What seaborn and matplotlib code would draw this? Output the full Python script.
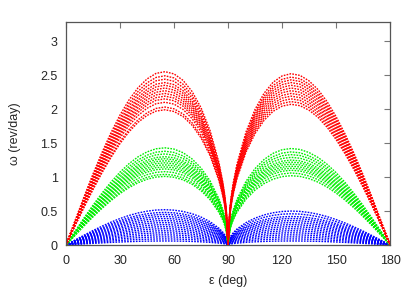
from pathlib import Path
import pandas as pd
import matplotlib
matplotlib.use("Agg")
import matplotlib.pyplot as plt
import seaborn as sns

# ==========================================================
# Data
# ==========================================================

# obliquity samples of one lobe, and the normalised arc shape at them
EPS_LOBE = [0, 5, 10, 15, 20, 25, 30, 35, 40, 45, 50, 55, 60, 65,
            70, 75, 80, 85, 87, 88, 89, 90]
SHAPE = [0.0, 0.14, 0.278, 0.41, 0.534, 0.648, 0.75, 0.837, 0.907, 0.958,
         0.99, 1.0, 0.987, 0.95, 0.886, 0.792, 0.661, 0.474, 0.368, 0.301,
         0.213, 0.0]

# peak heights of each arc (rev/day)
RED_LEFT = [2.55, 2.49, 2.44, 2.39, 2.35, 2.31, 2.27, 2.23, 2.19, 2.15,
            2.10, 2.03, 1.99]
GREEN_LEFT = [1.43, 1.38, 1.34, 1.30, 1.27, 1.24, 1.21, 1.18, 1.15, 1.12,
              1.08, 1.04, 1.01]
BLUE_LEFT = [0.52, 0.48, 0.45, 0.42, 0.39, 0.36, 0.33, 0.30, 0.27, 0.24,
             0.21, 0.18, 0.15, 0.12, 0.09, 0.06]

RED_RIGHT = [2.52, 2.47, 2.43, 2.39, 2.35, 2.31, 2.27, 2.23, 2.19, 2.15,
             2.11, 2.07]
GREEN_RIGHT = [1.42, 1.37, 1.33, 1.29, 1.25, 1.22, 1.19, 1.16, 1.13, 1.10,
               1.06, 1.02]
BLUE_RIGHT = [0.50, 0.46, 0.42, 0.39, 0.36, 0.33, 0.30, 0.27, 0.24, 0.21,
              0.18, 0.15, 0.12, 0.09, 0.06]

X_TICKS = [0, 30, 60, 90, 120, 150, 180]
Y_TICKS = [0, 0.5, 1, 1.5, 2, 2.5, 3]

COLORS = {"red": "#ff0000", "green": "#00ee00", "blue": "#0000ff"}

OUT_PATH = Path("out.png")

# ==========================================================
# Build long table
# ==========================================================

def build_frame():

    rows = []
    sets = [
        ("blue", BLUE_LEFT, False), ("blue", BLUE_RIGHT, True),
        ("green", GREEN_LEFT, False), ("green", GREEN_RIGHT, True),
        ("red", RED_LEFT, False), ("red", RED_RIGHT, True),
    ]

    curve = 0
    for color, peaks, mirrored in sets:
        for peak in peaks:
            for eps, s in zip(EPS_LOBE, SHAPE):
                x = 180 - eps if mirrored else eps
                rows.append({"eps": x, "omega": peak * s,
                             "curve": curve, "color": color})
            curve += 1

    return pd.DataFrame(rows)

# ==========================================================
# Plot
# ==========================================================

def main():

    df = build_frame()

    sns.set_style("white")
    plt.rcParams["font.family"] = ["Liberation Sans", "DejaVu Sans"]

    fig = plt.figure(figsize=(4.15, 2.9), dpi=100)
    ax = fig.add_axes([0.159, 0.155, 0.781, 0.769])

    for color in ["blue", "green", "red"]:
        sub = df[df["color"] == color]
        sns.lineplot(
            data=sub,
            x="eps",
            y="omega",
            units="curve",
            estimator=None,
            color=COLORS[color],
            linewidth=1.0,
            linestyle=(0, (1.2, 0.9)),
            sort=False,
            ax=ax,
            legend=False
        )

    ax.set_xlim(0, 180)
    ax.set_ylim(0, 3.28)
    ax.set_xticks(X_TICKS)
    ax.set_xticklabels([str(t) for t in X_TICKS])
    ax.set_yticks(Y_TICKS)
    ax.set_yticklabels(["0", "0.5", "1", "1.5", "2", "2.5", "3"])

    ax.tick_params(direction="in", length=4, width=0.8, labelsize=9,
                   top=True, right=True, color="#777777")
    ax.tick_params(axis="x", pad=7)
    ax.tick_params(axis="y", pad=6)
    for spine in ax.spines.values():
        spine.set_color("#555555")
        spine.set_linewidth(0.9)

    ax.set_xlabel("ε (deg)", fontsize=9, labelpad=6)
    ax.set_ylabel("ω (rev/day)", fontsize=9, labelpad=14)

    fig.savefig(OUT_PATH, dpi=100)
    plt.close(fig)


if __name__ == "__main__":
    main()
